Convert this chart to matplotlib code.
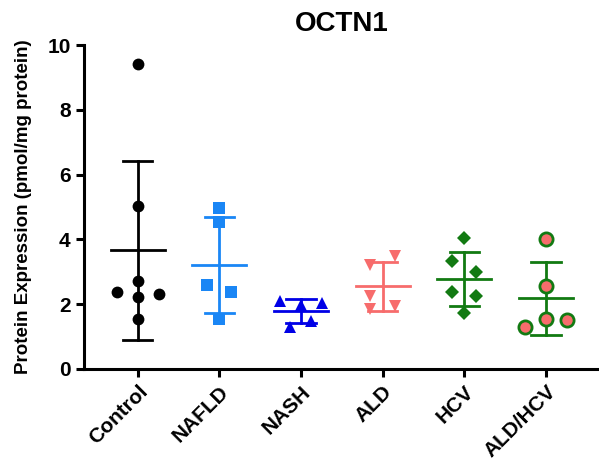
import numpy as np
import matplotlib
matplotlib.use("Agg")
import matplotlib.pyplot as plt

plt.rcParams['font.family'] = ['Liberation Sans', 'DejaVu Sans']
plt.rcParams['font.weight'] = 'bold'

groups = ['Control', 'NAFLD', 'NASH', 'ALD', 'HCV', 'ALD/HCV']

# individual sample values (pmol/mg protein)
control = [9.43, 5.03, 2.73, 2.22, 1.54, 2.38, 2.31]
nafld = [4.98, 4.55, 2.59, 2.37, 1.53]
nash = [2.11, 1.98, 2.05, 1.48, 1.29]
ald = [3.21, 3.49, 2.26, 1.84, 1.94]
hcv = [4.03, 3.34, 3.00, 2.37, 2.25, 1.74]
ald_hcv = [4.00, 2.56, 1.53, 1.51, 1.29]

# horizontal jitter of each point, in category units
control_dx = [0, 0, 0, 0, 0, -0.26, 0.26]
nafld_dx = [0, 0, -0.15, 0.14, 0]
nash_dx = [-0.26, 0, 0.26, 0.12, -0.13]
ald_dx = [-0.15, 0.15, -0.15, -0.15, 0.15]
hcv_dx = [0, -0.15, 0.14, -0.15, 0.14, 0]
ald_hcv_dx = [0, 0, 0, 0.26, -0.26]

series = [control, nafld, nash, ald, hcv, ald_hcv]
offsets = [control_dx, nafld_dx, nash_dx, ald_dx, hcv_dx, ald_hcv_dx]
line_colors = ['black', '#1a86f5', '#0000e6', '#f76c6c', '#127a12', '#127a12']
styles = [
    dict(marker='o', color='black', ms=8.5),
    dict(marker='s', color='#1a86f5', ms=8),
    dict(marker='^', color='#0000e6', ms=9),
    dict(marker='v', color='#f76c6c', ms=9),
    dict(marker='D', color='#127a12', ms=7),
    dict(marker='o', color='#f76c6c', ms=9.5, mec='#127a12', mew=2),
]

fig = plt.figure(figsize=(5.99, 4.61), dpi=100)
ax = fig.add_axes([0.140, 0.1996, 0.860, 0.7024])

for i, (vals, dx) in enumerate(zip(series, offsets)):
    vals = np.array(vals)
    st = dict(styles[i])
    c = st.pop('color')
    m = st.pop('marker')
    ms = st.pop('ms')
    ax.plot(i + np.array(dx), vals, linestyle='none', marker=m, ms=ms,
            mfc=c, mec=st.get('mec', c), mew=st.get('mew', 0), zorder=3)
    mean = vals.mean()
    sd = vals.std(ddof=1)
    lc = line_colors[i]
    ax.plot([i - 0.33, i + 0.33], [mean, mean], color=lc, lw=2, zorder=2)
    ax.plot([i, i], [mean - sd, mean + sd], color=lc, lw=2, zorder=2)
    for y in (mean - sd, mean + sd):
        ax.plot([i - 0.18, i + 0.18], [y, y], color=lc, lw=2, zorder=2)

ax.set_xlim(-0.66, 5.65)
ax.set_ylim(0, 10)
ax.set_yticks([0, 2, 4, 6, 8, 10])
ax.set_xticks(range(len(groups)))
ax.set_xticklabels(groups, rotation=45, ha='right', rotation_mode='anchor',
                   fontsize=15, fontweight='bold')
ax.tick_params(axis='y', labelsize=15, width=2.2, length=6)
ax.tick_params(axis='x', width=2.2, length=6)
for lab in ax.get_yticklabels():
    lab.set_fontweight('bold')

ax.spines['top'].set_visible(False)
ax.spines['right'].set_visible(False)
ax.spines['left'].set_linewidth(2.2)
ax.spines['bottom'].set_linewidth(2.2)

ax.set_ylabel('Protein Expression (pmol/mg protein)', fontsize=13.5,
              fontweight='bold', labelpad=11)
ax.set_title('OCTN1', fontsize=20, fontweight='bold', pad=10)

fig.savefig('out.png', dpi=100)
